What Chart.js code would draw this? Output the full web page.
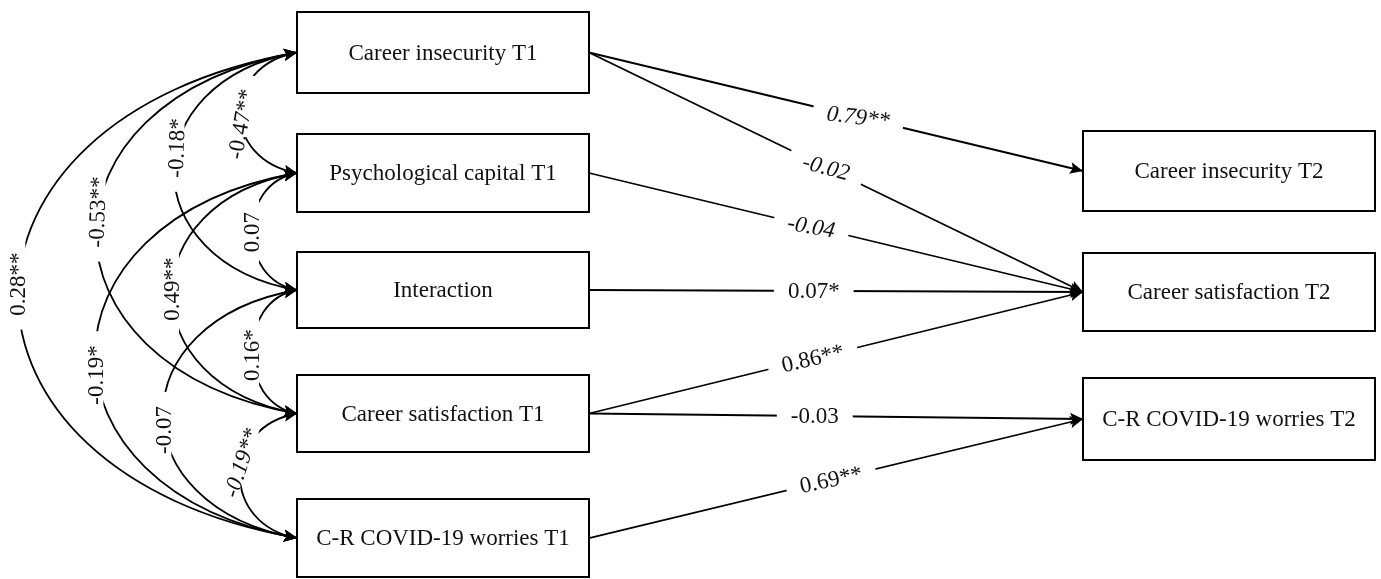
<!DOCTYPE html>
<html>
<head>
<meta charset="utf-8">
<title>Path model</title>
<script src="https://cdn.jsdelivr.net/npm/chart.js@4.4.0/dist/chart.umd.min.js"></script>
<style>
  html, body { margin: 0; padding: 0; background: #fff; }
  #wrap { width: 1381px; height: 579px; position: relative; }
</style>
</head>
<body>
<div id="wrap"><canvas id="pathChart"></canvas></div>
<script>
// Variables (T1 predictors on the left, T2 outcomes on the right)
const leftVars = ['Career insecurity T1', 'Psychological capital T1', 'Interaction', 'Career satisfaction T1', 'C-R COVID-19 worries T1'];
const rightVars = ['Career insecurity T2', 'Career satisfaction T2', 'C-R COVID-19 worries T2'];

// Regression paths: left index -> right index, with coefficient
const pathFrom = [0, 0, 1, 2, 3, 3, 4];
const pathTo = [0, 1, 1, 1, 1, 2, 2];
const pathCoefs = ['0.79**', '-0.02', '-0.04', '0.07*', '0.86**', '-0.03', '0.69**'];

// Correlations among T1 variables
const corrFrom = [0, 0, 0, 0, 1, 1, 1, 2, 2, 3];
const corrTo = [1, 2, 3, 4, 2, 3, 4, 3, 4, 4];
const corrCoefs = ['-0.47**', '-0.18*', '-0.53**', '0.28**', '0.07', '0.49**', '-0.19*', '0.16*', '-0.07', '-0.19**'];

// ---- layout (diagram units = the hidden x / y scales) ----
const leftBoxX = [297, 589];
const rightBoxX = [1083, 1375];
const leftBoxY = [[12, 93], [134, 212], [252, 328], [375, 452], [499, 577]];
const rightBoxY = [[131, 211], [253, 331], [378, 460]];

const pathLabelT = [0.545, 0.48, 0.45, 0.455, 0.453, 0.457, 0.49];
const pathLabelRot = [7, 15, 10, 0, -13, 0, -12];
const pathLabelItalic = [true, true, true, false, false, false, false];

const corrLeftmostX = [240, 174, 96, 18, 252, 172, 95, 252, 163, 240];
const corrLabelY = [124, 148, 212, 284, 232, 289, 375, 355, 430, 463];
const corrLabelRot = [-80, -88, -88, -90, -90, -90, -90, -90, -90, -72];
const corrLabelItalic = [false, false, false, false, false, false, false, false, false, true];

const FONT_FAMILY = '"Liberation Serif", "Times New Roman", serif';
const FONT_SIZE = 23;

function midY(r) { return (r[0] + r[1]) / 2; }

function drawArrowHead(ctx, x, y, dx, dy) {
    const len = Math.hypot(dx, dy);
    const ux = dx / len, uy = dy / len;
    const L = 13, W = 6;
    ctx.beginPath();
    ctx.moveTo(x, y);
    ctx.lineTo(x - ux * L - uy * W, y - uy * L + ux * W);
    ctx.lineTo(x - ux * L * 0.8, y - uy * L * 0.8);
    ctx.lineTo(x - ux * L + uy * W, y - uy * L - ux * W);
    ctx.closePath();
    ctx.fill();
}

// label with a white backing that breaks the line underneath
function drawLabel(ctx, text, x, y, rotDeg, italic, halfH) {
    ctx.save();
    ctx.translate(x, y);
    ctx.rotate(rotDeg * Math.PI / 180);
    ctx.font = (italic ? 'italic ' : '') + FONT_SIZE + 'px ' + FONT_FAMILY;
    const w = ctx.measureText(text).width;
    const pad = 14;
    ctx.fillStyle = '#fff';
    ctx.fillRect(-w / 2 - pad, -halfH, w + pad * 2, halfH * 2);
    ctx.fillStyle = '#111';
    ctx.textAlign = 'center';
    ctx.textBaseline = 'middle';
    ctx.fillText(text, 0, 1);
    ctx.restore();
}

function cubicAt(p0, p1, p2, p3, t) {
    const u = 1 - t;
    return u * u * u * p0 + 3 * u * u * t * p1 + 3 * u * t * t * p2 + t * t * t * p3;
}

const pathDiagram = {
    id: 'pathDiagram',
    afterDraw(chart) {
        const ctx = chart.ctx;
        const sx = chart.scales.x, sy = chart.scales.y;
        const X = v => sx.getPixelForValue(v);
        const Y = v => sy.getPixelForValue(v);

        ctx.save();
        ctx.strokeStyle = '#000';
        ctx.fillStyle = '#000';
        ctx.lineWidth = 1.8;

        // correlation curves (double-headed) on the left side
        const heads = [];
        const labels = [];
        corrFrom.forEach((a, i) => {
            const b = corrTo[i];
            const x0 = X(leftBoxX[0]);
            const ya = Y(midY(leftBoxY[a]));
            const yb = Y(midY(leftBoxY[b]));
            const phi = 10 * Math.PI / 180;
            const bulge = x0 - X(corrLeftmostX[i]);
            const L = bulge / (0.75 * Math.cos(phi));
            const cx = x0 - L * Math.cos(phi);
            const c1y = ya + L * Math.sin(phi);
            const c2y = yb - L * Math.sin(phi);
            ctx.beginPath();
            ctx.moveTo(x0, ya);
            ctx.bezierCurveTo(cx, c1y, cx, c2y, x0, yb);
            ctx.stroke();
            heads.push([x0, ya, x0 - cx, ya - c1y]);
            heads.push([x0, yb, x0 - cx, yb - c2y]);

            // find the point on the curve at the label height
            const target = Y(corrLabelY[i]);
            let lo = 0, hi = 1;
            for (let k = 0; k < 40; k++) {
                const m = (lo + hi) / 2;
                if (cubicAt(ya, c1y, c2y, yb, m) < target) lo = m; else hi = m;
            }
            const t = (lo + hi) / 2;
            labels.push([corrCoefs[i], cubicAt(x0, cx, cx, x0, t), target, corrLabelRot[i], corrLabelItalic[i], 7]);
        });

        // regression paths
        pathFrom.forEach((a, i) => {
            const b = pathTo[i];
            const x1 = X(leftBoxX[1]), y1 = Y(midY(leftBoxY[a]));
            const x2 = X(rightBoxX[0]), y2 = Y(midY(rightBoxY[b]));
            ctx.beginPath();
            ctx.moveTo(x1, y1);
            ctx.lineTo(x2, y2);
            ctx.stroke();
            heads.push([x2, y2, x2 - x1, y2 - y1]);
            const t = pathLabelT[i];
            labels.push([pathCoefs[i], x1 + (x2 - x1) * t, y1 + (y2 - y1) * t, pathLabelRot[i], pathLabelItalic[i], 13]);
        });

        labels.forEach(l => drawLabel(ctx, l[0], l[1], l[2], l[3], l[4], l[5]));

        // boxes
        const drawBox = (label, bx, by) => {
            const x = X(bx[0]), w = X(bx[1]) - x;
            const y = Y(by[0]), h = Y(by[1]) - y;
            ctx.fillStyle = '#fff';
            ctx.fillRect(x, y, w, h);
            ctx.lineWidth = 2;
            ctx.strokeStyle = '#000';
            ctx.strokeRect(x, y, w, h);
            ctx.fillStyle = '#111';
            ctx.font = FONT_SIZE + 'px ' + FONT_FAMILY;
            ctx.textAlign = 'center';
            ctx.textBaseline = 'middle';
            ctx.fillText(label, x + w / 2, y + h / 2 + 1);
        };
        leftVars.forEach((v, i) => drawBox(v, leftBoxX, leftBoxY[i]));
        rightVars.forEach((v, i) => drawBox(v, rightBoxX, rightBoxY[i]));

        ctx.fillStyle = '#000';
        heads.forEach(h => drawArrowHead(ctx, h[0], h[1], h[2], h[3]));
        ctx.restore();
    }
};

new Chart(document.getElementById('pathChart').getContext('2d'), {
    type: 'scatter',
    data: {
        datasets: [{
            label: 'T1 variables',
            data: leftVars.map((v, i) => ({ x: (leftBoxX[0] + leftBoxX[1]) / 2, y: midY(leftBoxY[i]) })),
            pointRadius: 0
        }, {
            label: 'T2 variables',
            data: rightVars.map((v, i) => ({ x: (rightBoxX[0] + rightBoxX[1]) / 2, y: midY(rightBoxY[i]) })),
            pointRadius: 0
        }]
    },
    options: {
        responsive: true,
        maintainAspectRatio: false,
        animation: false,
        layout: { padding: 0 },
        scales: {
            x: { type: 'linear', min: 0, max: 1381, display: false },
            y: { type: 'linear', min: 0, max: 579, reverse: true, display: false }
        },
        plugins: {
            legend: { display: false },
            tooltip: { enabled: false }
        }
    },
    plugins: [pathDiagram]
});
</script>
</body>
</html>
